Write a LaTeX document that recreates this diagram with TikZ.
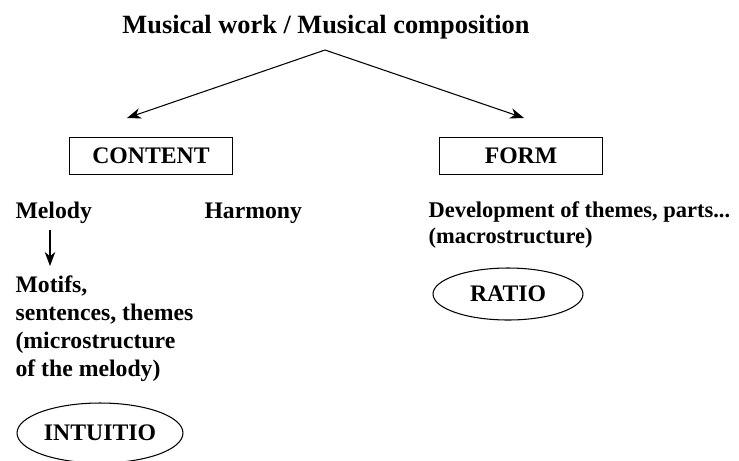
\documentclass[tikz,border=0pt]{standalone}
\usepackage{fontspec}
\setmainfont{Liberation Serif}
\usetikzlibrary{arrows.meta,shapes.geometric}

\begin{document}
\begin{tikzpicture}[x=0.02cm, y=-0.02cm, line width=0.6pt,
    >={Stealth[length=8pt,width=6pt,inset=2.5pt]},
    txt/.style={font=\bfseries\fontsize{13.5}{16}\selectfont, inner sep=0pt},
    kind/.style={draw, txt, minimum width=3.26cm, minimum height=0.74cm},
    mind/.style={draw, ellipse, txt}]
    \useasboundingbox (0,0) rectangle (739,460);% keep the margins
    % Title
    \node[txt, font=\bfseries\fontsize{15}{18}\selectfont, anchor=base] (work) at (326,33)
        {Musical work / Musical composition};
    \coordinate (apex) at (325,50);% top of the split
    \coordinate (leftend) at (127,118);
    \coordinate (rightend) at (524,118);
    \draw[->] (apex) -- (leftend);% to content
    \draw[->] (apex) -- (rightend);% to form
    % the two boxes
    \node[kind] (content) at (151,156) {CONTENT};
    \node[kind] (form) at (521,156) {FORM};
    % content side
    \node[txt, anchor=base west] (melody) at (15,218) {Melody};
    \node[txt, anchor=base west] (harmony) at (204,218) {Harmony};
    \node[txt, anchor=north west, align=left] (motifs) at (15,275)
        {Motifs,\\sentences, themes\\(microstructure\\of the melody)};
    \coordinate (mtop) at (50,230);
    \coordinate (mbot) at (50,266);
    \draw[->] (mtop) -- (mbot);% melody down to motifs
    \node[mind, minimum width=3.32cm, minimum height=1.2cm] (intuitio) at (100,433) {INTUITIO};
    % form side
    \node[txt, font=\bfseries\fontsize{12.8}{14.8}\selectfont, anchor=north west, align=left] (devel) at (428,201)
        {Development of themes, parts...\\(macrostructure)};
    \node[mind, minimum width=3cm, minimum height=1.04cm] (ratio) at (508,294) {RATIO};
\end{tikzpicture}
\end{document}
